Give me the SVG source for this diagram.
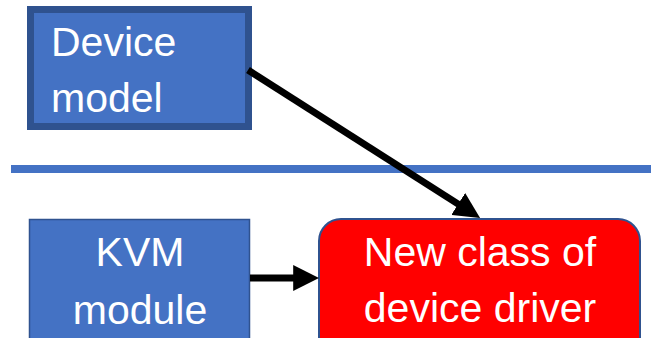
<svg xmlns="http://www.w3.org/2000/svg" width="651" height="338" viewBox="0 0 651 338">
<defs>
<style>
.lbl{font-family:"Liberation Sans",Arial,sans-serif;font-size:41px;fill:#ffffff}
.blue{fill:#4472C4}
.conn{stroke:#000000;stroke-width:7;fill:none}
</style>
<marker id="ah" markerUnits="userSpaceOnUse" markerWidth="26" markerHeight="26" refX="10" refY="12" orient="auto" viewBox="0 0 24 24">
<path d="M0,0 L24,12 L0,24 z" fill="#000000"/>
</marker>
</defs>
<rect width="651" height="338" fill="#ffffff"/>
<line x1="11" y1="169" x2="651" y2="169" stroke="#4472C4" stroke-width="8"/>
<g id="device-model">
<rect x="30.5" y="9.5" width="218" height="117" class="blue" stroke="#2F528F" stroke-width="7"/>
<text class="lbl" x="51" y="56">Device</text>
<text class="lbl" x="51" y="112">model</text>
</g>
<g id="kvm-module">
<rect x="29.5" y="219.5" width="220" height="120" class="blue" stroke="#2F528F" stroke-width="1.5"/>
<text class="lbl" x="140" y="266" text-anchor="middle">KVM</text>
<text class="lbl" x="140" y="324" text-anchor="middle">module</text>
</g>
<g id="new-driver">
<rect x="319" y="219" width="321" height="140" rx="22" ry="22" fill="#FF0000" stroke="#2F528F" stroke-width="2"/>
<text class="lbl" x="480" y="266" text-anchor="middle">New class of</text>
<text class="lbl" x="480" y="322" text-anchor="middle">device driver</text>
</g>
<g id="connectors">
<line class="conn" x1="248" y1="70" x2="467.3" y2="209.9" marker-end="url(#ah)"/>
<line class="conn" x1="250" y1="278" x2="304" y2="278" marker-end="url(#ah)"/>
</g>
</svg>
